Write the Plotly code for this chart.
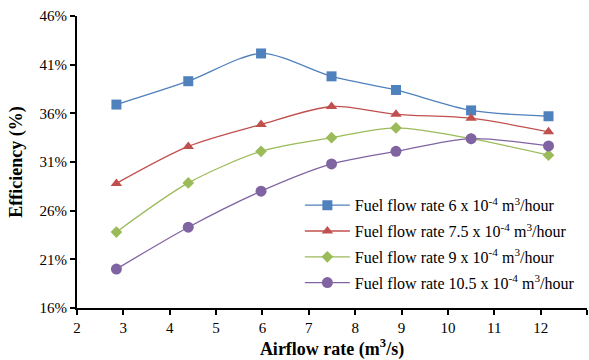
import plotly.graph_objects as go

airflow = [2.85, 4.40, 5.97, 7.49, 8.88, 10.50, 12.17]
eff_6 = [36.9, 39.3, 42.15, 39.8, 38.4, 36.3, 35.7]
eff_7_5 = [28.8, 32.6, 34.85, 36.7, 35.9, 35.5, 34.1]
eff_9 = [23.8, 28.85, 32.1, 33.5, 34.5, 33.4, 31.7]
eff_10_5 = [20.0, 24.3, 28.0, 30.8, 32.1, 33.4, 32.65]

names = [
    "Fuel flow rate 6 x 10<sup>-4</sup> m<sup>3</sup>/hour",
    "Fuel flow rate 7.5 x 10<sup>-4</sup> m<sup>3</sup>/hour",
    "Fuel flow rate 9 x 10<sup>-4</sup> m<sup>3</sup>/hour",
    "Fuel flow rate 10.5 x 10<sup>-4</sup> m<sup>3</sup>/hour",
]
series = [eff_6, eff_7_5, eff_9, eff_10_5]
colors = ["#4F81BD", "#C0504D", "#9BBB59", "#8064A2"]
symbols = ["square", "triangle-up", "diamond", "circle"]
sizes = [10, 10, 9, 11]

fig = go.Figure()
for i, (nm, ys) in enumerate(zip(names, series)):
    fig.add_trace(go.Scatter(
        x=airflow, y=[v / 100 for v in ys], name=nm,
        mode="lines+markers", legendgroup=f"g{i}",
        line=dict(color=colors[i], width=1.3, shape="spline", smoothing=0.8),
        marker=dict(symbol=symbols[i], size=sizes[i], color=colors[i]),
    ))

font_family = "Liberation Serif"
fig.update_layout(
    width=589, height=360,
    margin=dict(l=77, r=2, t=16, b=52),
    paper_bgcolor="white", plot_bgcolor="white",
    font=dict(family=font_family, size=15, color="black"),
    showlegend=True,
    legend=dict(
        x=0.437, y=0.41, xanchor="left", yanchor="top",
        font=dict(family=font_family, size=16, color="black"),
        bgcolor="rgba(0,0,0,0)", traceorder="grouped", tracegroupgap=2,
        itemwidth=45,
    ),
    xaxis=dict(
        range=[2, 13], dtick=1, tick0=2,
        showgrid=False, zeroline=False,
        showline=True, linecolor="black", linewidth=2,
        ticks="outside", ticklen=5, tickcolor="black", tickwidth=1.5,
        tickfont=dict(family=font_family, size=15),
        title=dict(text="<b>Airflow rate (m<sup>3</sup>/s)</b>",
                   font=dict(family=font_family, size=18), standoff=5),
    ),
    yaxis=dict(
        range=[0.16, 0.46], dtick=0.05, tick0=0.16, tickformat=".0%",
        showgrid=False, zeroline=False,
        showline=True, linecolor="black", linewidth=2,
        ticks="outside", ticklen=5, tickcolor="black", tickwidth=1.5,
        tickfont=dict(family=font_family, size=15),
        title=dict(text="<b>Efficiency (%)</b>",
                   font=dict(family=font_family, size=18), standoff=12),
    ),
)

fig.write_html("out.html")
